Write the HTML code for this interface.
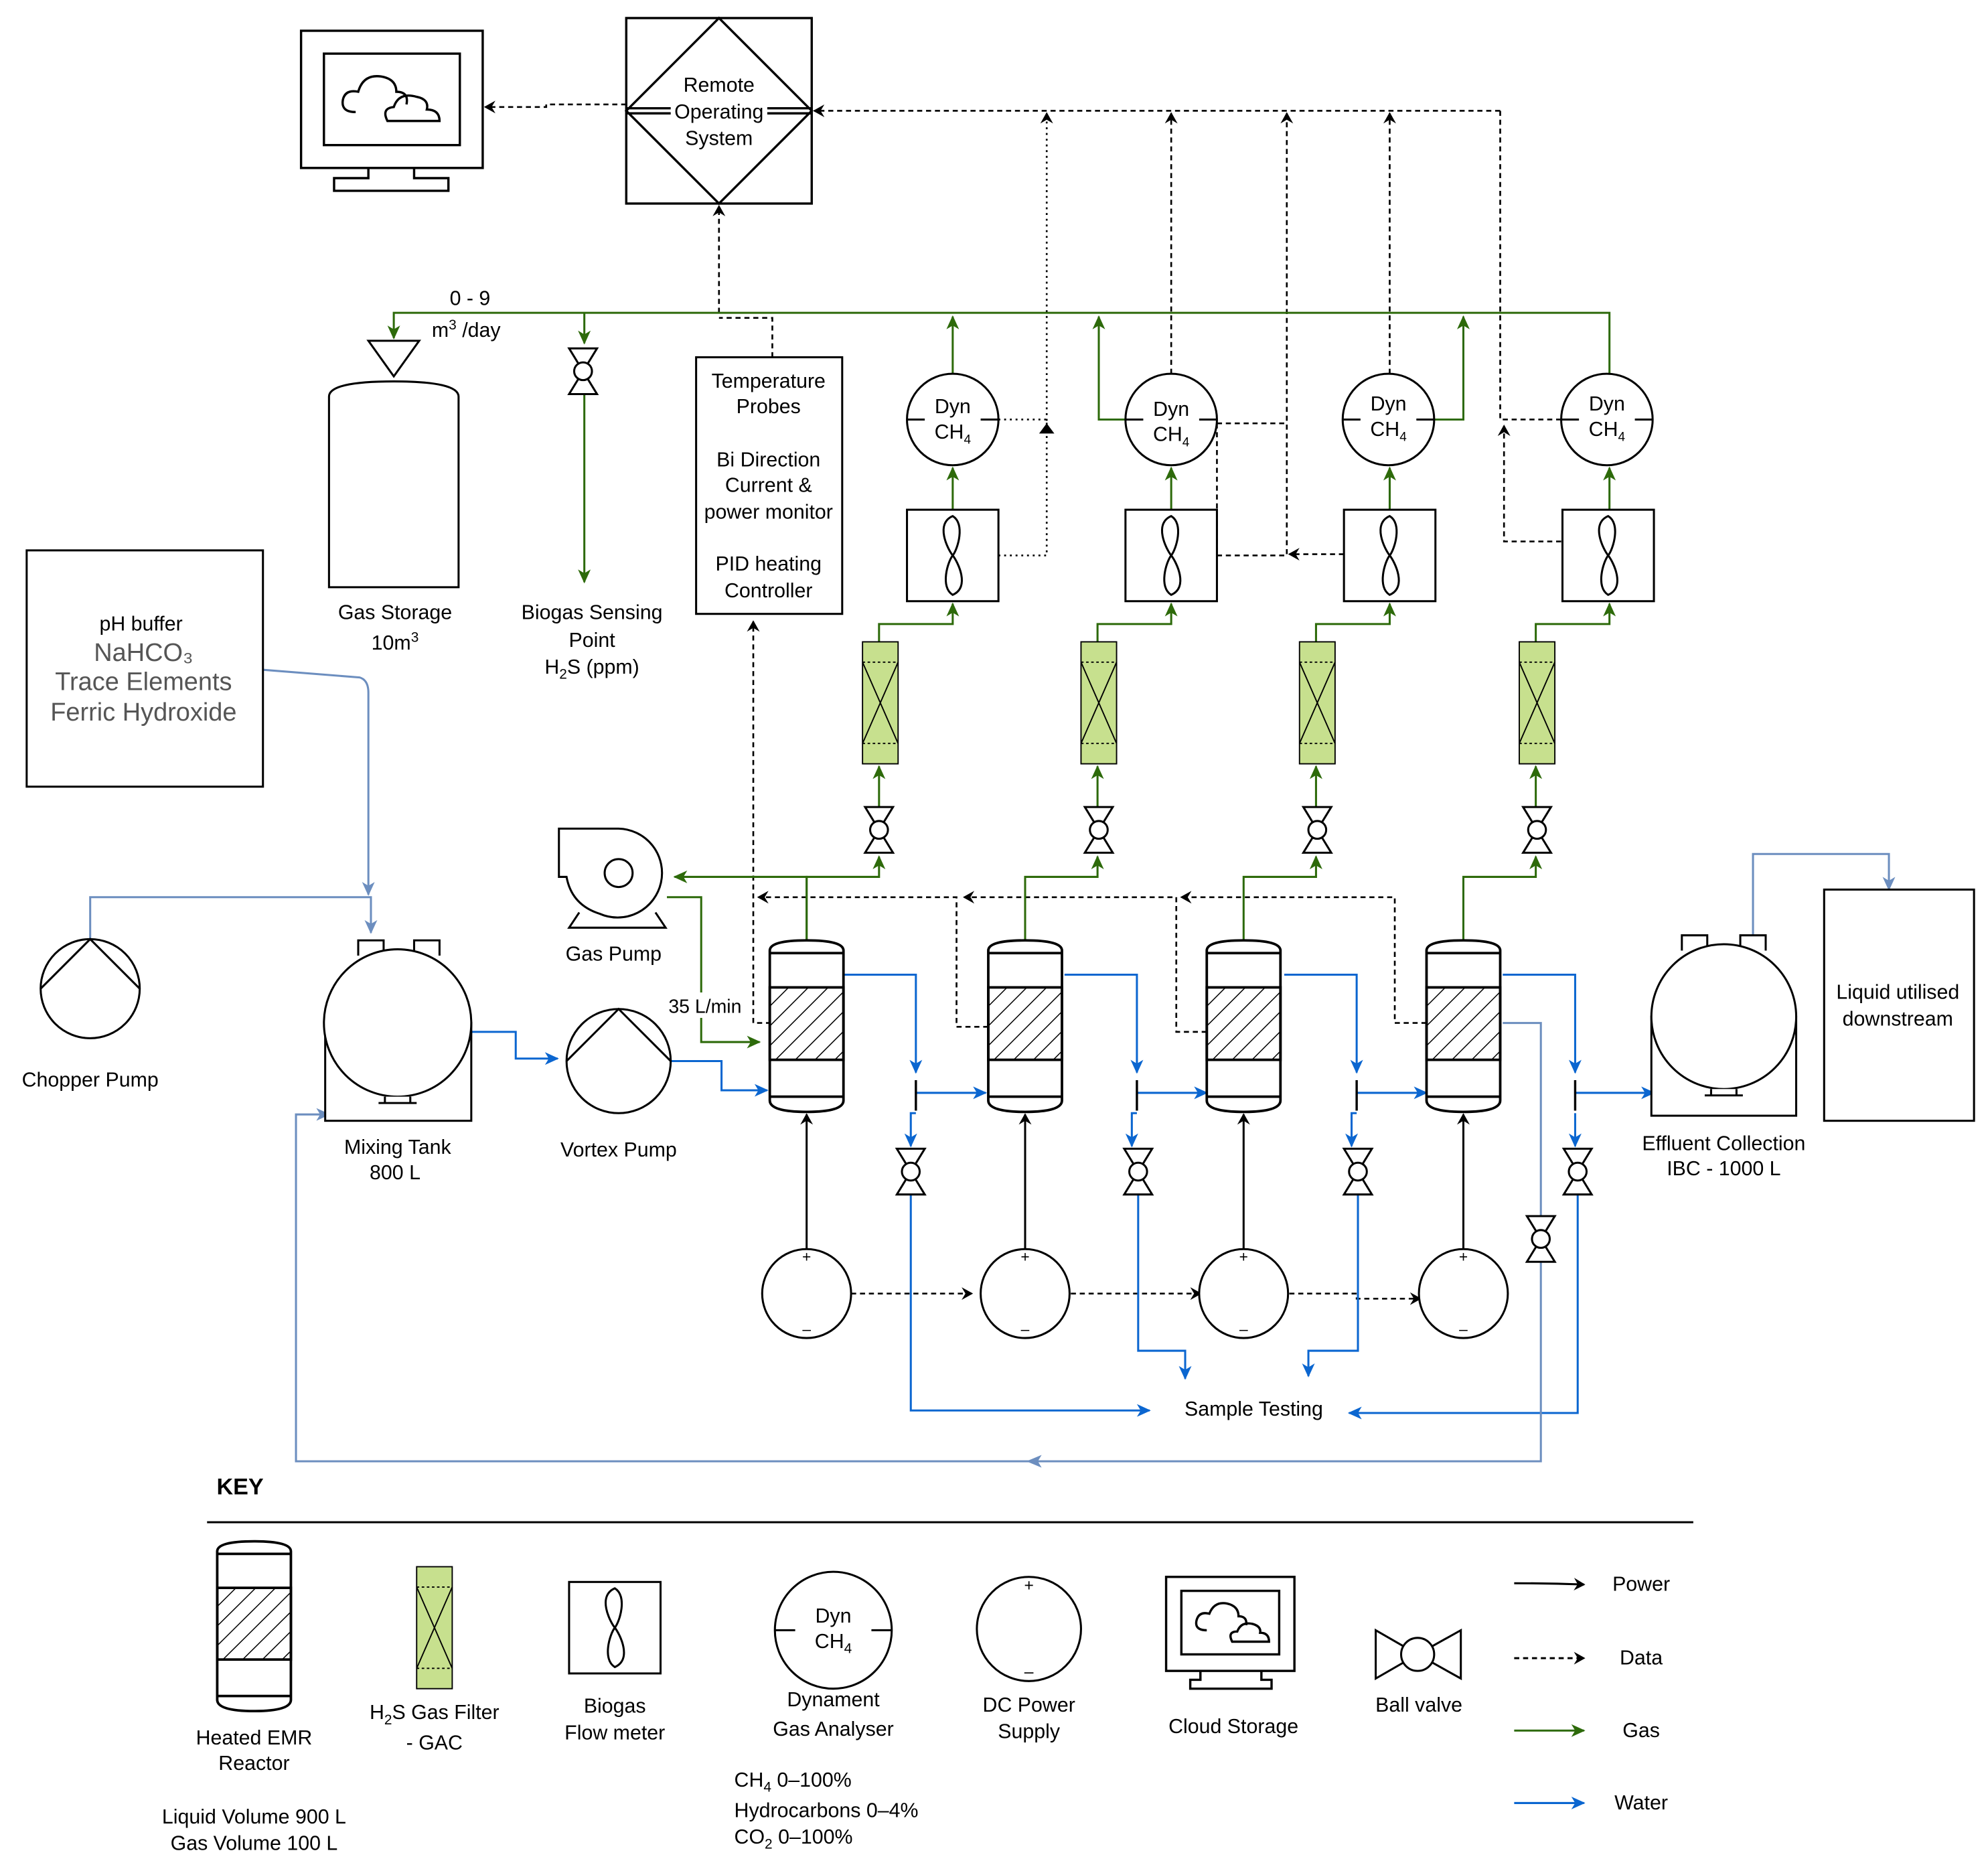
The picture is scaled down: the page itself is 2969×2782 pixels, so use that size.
<!DOCTYPE html>
<html><head><meta charset="utf-8"><style>
html,body{margin:0;padding:0;background:#fff}
svg{display:block}
text{font-family:"Liberation Sans",sans-serif;font-size:16px;fill:#000;text-anchor:middle}
</style></head><body>
<svg width="2969" height="2782" viewBox="0 0 1565 1466" xmlns="http://www.w3.org/2000/svg">
<defs>
<pattern id="h" patternUnits="userSpaceOnUse" width="11" height="11" patternTransform="rotate(45)"><line x1="0" y1="0" x2="0" y2="11" stroke="#000" stroke-width="1.6"/></pattern>
<marker id="ak" markerWidth="10" markerHeight="10" refX="8" refY="5" orient="auto" markerUnits="userSpaceOnUse"><path d="M0,0 L9,5 L0,10 L3,5z" fill="#000"/></marker>
<marker id="ag" markerWidth="12" markerHeight="10" refX="10" refY="5" orient="auto" markerUnits="userSpaceOnUse"><path d="M0,0 L11,5 L0,10 L3,5z" fill="#2d6a0a"/></marker>
<marker id="ab" markerWidth="12" markerHeight="10" refX="10" refY="5" orient="auto" markerUnits="userSpaceOnUse"><path d="M0,0 L11,5 L0,10 L3,5z" fill="#0b66d0"/></marker>
<marker id="al" markerWidth="12" markerHeight="10" refX="10" refY="5" orient="auto" markerUnits="userSpaceOnUse"><path d="M0,0 L11,5 L0,10 L3,5z" fill="#6c8ebf"/></marker>
<g id="reactor" fill="#fff" stroke="#000" stroke-width="2">
<path d="M-29,748 Q-29,740 0,740 Q29,740 29,748 L29,866 Q29,875 0,875 Q-29,875 -29,866 Z"/>
<rect x="-29" y="777" width="58" height="57" fill="url(#h)"/>
<line x1="-29" y1="750" x2="29" y2="750"/><line x1="-29" y1="863" x2="29" y2="863"/>
</g>
<g id="dyn" fill="#fff" stroke="#000" stroke-width="1.6"><circle r="36"/><line x1="-36" y1="0" x2="-22" y2="0"/><line x1="22" y1="0" x2="36" y2="0"/></g>
<g id="fm" fill="#fff" stroke="#000" stroke-width="1.6"><rect x="-36" y="-36" width="72" height="72"/><path d="M0,-31 C-14,-25 -4,-5 0,0 C4,5 14,25 0,31 C-10,25 -4,5 0,0 C4,-5 10,-25 0,-31Z" fill="none"/></g>
<g id="filt" stroke="#000" stroke-width="1"><rect x="-14" y="0" width="28" height="96" fill="#c7e08e"/><path d="M-14,16 L14,80 M14,16 L-14,80" fill="none"/><path d="M-14,16 H14 M-14,80 H14" stroke-dasharray="2,2"/></g>
<g id="vv" fill="#fff" stroke="#000" stroke-width="1.6"><path d="M-11,-18 L11,-18 L0,0 L11,18 L-11,18 L0,0Z"/><circle r="7"/></g>
<g id="dc" fill="#fff" stroke="#000" stroke-width="1.6"><circle r="35"/></g>
</defs>

<g fill="none" stroke="#000" stroke-width="1.8">
<rect x="237" y="24" width="143" height="108"/><rect x="255" y="42" width="107" height="72"/>
<path d="M290,132 V140 H263 V150 H353 V140 H326 V132"/>
<path d="M280,88 Q268,88 270,78 Q272,70 282,72 Q286,58 300,60 Q312,62 312,72 Q322,72 320,82" />
<path d="M305,95 Q300,85 310,84 Q314,72 328,76 Q338,78 336,86 Q346,86 346,95 Z"/>
</g>
<g fill="none" stroke="#000" stroke-width="1.8">
<rect x="493" y="14" width="146" height="146"/>
<path d="M566,14 L639,87 L566,160 L493,87Z"/>
<path d="M493,85 H528 M493,89 H528 M604,85 H639 M604,89 H639"/>
</g>
<text x="566" y="72">Remote</text><text x="566" y="93">Operating</text><text x="566" y="114">System</text>

<g fill="none" stroke="#000" stroke-width="1.4" stroke-dasharray="4,3">
<path d="M493,82 H430 V84 H382" marker-end="url(#ak)"/>
<path d="M1181,87 H641" marker-end="url(#ak)"/>
<path d="M566,246 V162" marker-end="url(#ak)"/>
<path d="M608,281 V250 H566"/>
<path d="M607,805 H593 V489" marker-end="url(#ak)"/>
<path d="M922,294 V89" marker-end="url(#ak)"/>
<path d="M1094,294 V89" marker-end="url(#ak)"/>
<path d="M958,437 H1013 V89" marker-end="url(#ak)"/>
<path d="M1058,436 H1015" marker-end="url(#ak)"/>
<path d="M958,333 H1013 M958,333 V437"/>
<path d="M1229,330 H1181 V87"/>
<path d="M1229,426 H1184 V335" marker-end="url(#ak)"/>
<path d="M778,808 H753 V706 H597" marker-end="url(#ak)"/>
<path d="M950,812 H926 V706 H759" marker-end="url(#ak)"/>
<path d="M1123,805 H1098 V706 H930" marker-end="url(#ak)"/>
<path d="M670,1018 H765" marker-end="url(#ak)"/>
<path d="M843,1018 H945" marker-end="url(#ak)"/>
<path d="M1015,1018 H1068 V1022 H1118" marker-end="url(#ak)"/>
</g>
<g fill="none" stroke="#000" stroke-width="1.4" stroke-dasharray="1.5,3">
<path d="M786,437 H824 V89" marker-end="url(#ak)"/>
<path d="M786,330 H824 V335" />
</g>
<path d="M818,341 L824,333 L830,341Z" fill="#000"/>

<g fill="none" stroke="#2d6a0a" stroke-width="1.6">
<path d="M1267,294 V246 H310 V266" marker-end="url(#ag)"/>
<path d="M460,246 V270" marker-end="url(#ag)"/>
<path d="M460,310 V458" marker-end="url(#ag)"/>
<path d="M750,294 V249" marker-end="url(#ag)"/>
<path d="M886,330 H865 V249" marker-end="url(#ag)"/>
<path d="M1129,330 H1152 V249" marker-end="url(#ag)"/>
<path d="M635,740 V690 H531" marker-end="url(#ag)"/>
<path d="M525,706 H552 V820 H598" marker-end="url(#ag)"/>
</g>
<g fill="none" stroke="#2d6a0a" stroke-width="1.6">
<g id="gch">
<path d="M635,740 V690 H692 V674" marker-end="url(#ag)"/>
<path d="M692,635 V603" marker-end="url(#ag)"/>
<path d="M692,505 V491 H750 V475" marker-end="url(#ag)"/>
<path d="M750,401 V368" marker-end="url(#ag)"/>
</g>
<use href="#gch" x="172"/><use href="#gch" x="344"/><use href="#gch" x="517"/>
</g>

<g fill="none" stroke="#0b66d0" stroke-width="1.6">
<path d="M371,812 H406 V833 H439" marker-end="url(#ab)"/>
<path d="M528,835 H568 V858 H604" marker-end="url(#ab)"/>
<g id="wch">
<path d="M664,767 H721 V844" marker-end="url(#ab)"/>
<path d="M721,860 H776" marker-end="url(#ab)"/>
<path d="M721,876 H717 V902" marker-end="url(#ab)"/>
</g>
<use href="#wch" x="174"/><use href="#wch" x="347"/>
<path d="M1183,767 H1240 V844" marker-end="url(#ab)"/>
<path d="M1240,860 H1302" marker-end="url(#ab)"/>
<path d="M1240,876 V902" marker-end="url(#ab)"/>
<path d="M717,940 V1110 H905" marker-end="url(#ab)"/>
<path d="M896,940 V1063 H933 V1085" marker-end="url(#ab)"/>
<path d="M1069,940 V1063 H1030 V1083" marker-end="url(#ab)"/>
<path d="M1242,940 V1112 H1062" marker-end="url(#ab)"/>
</g>
<g stroke="#000" stroke-width="1.8"><line x1="721" y1="850" x2="721" y2="874"/><line x1="895" y1="850" x2="895" y2="874"/><line x1="1068" y1="850" x2="1068" y2="874"/><line x1="1240" y1="850" x2="1240" y2="874"/></g>

<g fill="none" stroke="#6c8ebf" stroke-width="1.6">
<path d="M1183,805 H1213 V1150 H233 V877 H259" marker-end="url(#al)"/>
<path d="M207,527 L283,533 Q290,535 290,545 V704" marker-end="url(#al)"/>
<path d="M71,739 V706 H292 V734" marker-end="url(#al)"/>
<path d="M1380,740 V672 H1487 V700" marker-end="url(#al)"/>
</g>
<path d="M808,1150 L820,1145 L817,1150 L820,1155Z" fill="#6c8ebf"/>

<g fill="none" stroke="#000" stroke-width="1.6">
<path d="M635,983 V877" marker-end="url(#ak)"/><path d="M807,983 V877" marker-end="url(#ak)"/><path d="M979,983 V877" marker-end="url(#ak)"/><path d="M1152,983 V877" marker-end="url(#ak)"/>
</g>

<use href="#reactor" x="635"/><use href="#reactor" x="807"/><use href="#reactor" x="979"/><use href="#reactor" x="1152"/>
<g>
<use href="#dyn" x="750" y="330"/><use href="#dyn" x="922" y="330"/><use href="#dyn" x="1093" y="330"/><use href="#dyn" x="1265" y="330"/>
<use href="#fm" x="750" y="437"/><use href="#fm" x="922" y="437"/><use href="#fm" x="1094" y="437"/><use href="#fm" x="1266" y="437"/>
<use href="#filt" x="693" y="505"/><use href="#filt" x="865" y="505"/><use href="#filt" x="1037" y="505"/><use href="#filt" x="1210" y="505"/>
<use href="#vv" x="692" y="653"/><use href="#vv" x="865" y="653"/><use href="#vv" x="1037" y="653"/><use href="#vv" x="1210" y="653"/>
<use href="#vv" x="717" y="922"/><use href="#vv" x="896" y="922"/><use href="#vv" x="1069" y="922"/><use href="#vv" x="1242" y="922"/>
<use href="#vv" x="1213" y="975"/><use href="#vv" x="459" y="292"/>
<use href="#dc" x="635" y="1018"/><use href="#dc" x="807" y="1018"/><use href="#dc" x="979" y="1018"/><use href="#dc" x="1152" y="1018"/>
</g>
<g>
<text x="750" y="325">Dyn</text><text x="750" y="345">CH<tspan font-size="10" dy="4">4</tspan></text>
<text x="922" y="327">Dyn</text><text x="922" y="347">CH<tspan font-size="10" dy="4">4</tspan></text>
<text x="1093" y="323">Dyn</text><text x="1093" y="343">CH<tspan font-size="10" dy="4">4</tspan></text>
<text x="1265" y="323">Dyn</text><text x="1265" y="343">CH<tspan font-size="10" dy="4">4</tspan></text>
</g>
<g>
<text x="635" y="993" style="font-size:12px">+</text><text x="635" y="1050" style="font-size:12px">–</text><text x="807" y="993" style="font-size:12px">+</text><text x="807" y="1050" style="font-size:12px">–</text>
<text x="979" y="993" style="font-size:12px">+</text><text x="979" y="1050" style="font-size:12px">–</text><text x="1152" y="993" style="font-size:12px">+</text><text x="1152" y="1050" style="font-size:12px">–</text>
</g>

<g fill="#fff" stroke="#000" stroke-width="1.6">
<path d="M290,268 H330 L310,296Z"/>
<path d="M259,462 V312 Q259,300 310,300 Q361,300 361,312 V462Z"/>
</g>
<text x="311" y="487">Gas Storage</text><text x="311" y="511">10m<tspan font-size="11" dy="-6">3</tspan></text>
<text x="370" y="240">0 - 9</text><text x="367" y="265">m<tspan font-size="11" dy="-6">3</tspan><tspan dy="6"> /day</tspan></text>
<text x="466" y="487">Biogas Sensing</text><text x="466" y="509">Point</text><text x="466" y="530">H<tspan font-size="11" dy="4">2</tspan><tspan dy="-4">S (ppm)</tspan></text>

<rect x="548" y="281" width="115" height="202" fill="#fff" stroke="#000" stroke-width="1.6"/>
<text x="605" y="305">Temperature</text><text x="605" y="325">Probes</text>
<text x="605" y="367">Bi Direction</text><text x="605" y="387">Current &amp;</text><text x="605" y="408">power monitor</text>
<text x="605" y="449">PID heating</text><text x="605" y="470">Controller</text>

<rect x="21" y="433" width="186" height="186" fill="#fff" stroke="#000" stroke-width="1.6"/>
<text x="111" y="496">pH buffer</text>
<text x="113" y="520" style="fill:#555;font-size:20px">NaHCO₃</text><text x="113" y="543" style="fill:#555;font-size:20px">Trace Elements</text><text x="113" y="567" style="fill:#555;font-size:20px">Ferric Hydroxide</text>

<g fill="#fff" stroke="#000" stroke-width="1.6"><circle cx="71" cy="778" r="39"/><path d="M32,778 L71,739 L110,778" fill="none"/></g>
<text x="71" y="855">Chopper Pump</text>

<g fill="#fff" stroke="#000" stroke-width="1.6">
<path d="M282,752 V740 H302 V752 M326,752 V740 H346 V752" />
<rect x="256" y="805" width="115" height="77"/>
<circle cx="313" cy="805" r="58"/>
<path d="M303,863 V868 H323 V863 M298,868 H328"/>
</g>
<text x="313" y="908">Mixing Tank</text><text x="311" y="928">800 L</text>

<g fill="#fff" stroke="#000" stroke-width="1.6">
<path d="M456,718 L448,730 H524 L516,718"/>
<path d="M487,652 A35,35 0 1 1 472,719 Q450,712 446,690 H440 V652Z"/>
<circle cx="487" cy="687" r="11"/>
</g>
<text x="483" y="756">Gas Pump</text>
<rect x="522" y="781" width="64" height="20" fill="#fff"/><text x="555" y="797" style="font-size:15px">35 L/min</text>

<g fill="#fff" stroke="#000" stroke-width="1.6"><circle cx="487" cy="835" r="41"/><path d="M446,835 L487,794 L528,835" fill="none"/></g>
<text x="487" y="910">Vortex Pump</text>

<g fill="#fff" stroke="#000" stroke-width="1.6">
<path d="M1324,748 V736 H1344 V748 M1370,748 V736 H1390 V748"/>
<rect x="1300" y="800" width="114" height="78"/>
<circle cx="1357" cy="800" r="57"/>
<path d="M1347,857 V862 H1367 V857 M1342,862 H1372"/>
</g>
<text x="1357" y="905">Effluent Collection</text><text x="1357" y="925">IBC - 1000 L</text>
<rect x="1436" y="700" width="118" height="182" fill="#fff" stroke="#000" stroke-width="1.6"/>
<text x="1494" y="786">Liquid utilised</text><text x="1494" y="807">downstream</text>

<text x="987" y="1114">Sample Testing</text>

<text x="189" y="1176" font-weight="bold" style="font-size:18px">KEY</text>
<line x1="163" y1="1198" x2="1333" y2="1198" stroke="#000" stroke-width="1.6"/>
<g transform="translate(200,1213) scale(1,0.99) translate(0,-740)"><use href="#reactor"/></g>
<text x="200" y="1373">Heated EMR</text><text x="200" y="1393">Reactor</text>
<text x="200" y="1435">Liquid Volume 900 L</text><text x="200" y="1456">Gas Volume 100 L</text>
<use href="#filt" x="342" y="1233"/>
<text x="342" y="1353">H<tspan font-size="11" dy="4">2</tspan><tspan dy="-4">S Gas Filter</tspan></text><text x="342" y="1377">- GAC</text>
<use href="#fm" x="484" y="1281"/>
<text x="484" y="1348">Biogas</text><text x="484" y="1369">Flow meter</text>
<g fill="#fff" stroke="#000" stroke-width="1.6"><circle cx="656" cy="1283" r="46"/><line x1="610" y1="1283" x2="626" y2="1283"/><line x1="686" y1="1283" x2="702" y2="1283"/></g>
<text x="656" y="1277">Dyn</text><text x="656" y="1297">CH<tspan font-size="11" dy="4">4</tspan></text>
<text x="656" y="1343">Dynament</text><text x="656" y="1366">Gas Analyser</text>
<text x="578" y="1406" style="text-anchor:start">CH<tspan font-size="11" dy="4">4</tspan><tspan dy="-4"> 0–100%</tspan></text>
<text x="578" y="1430" style="text-anchor:start">Hydrocarbons 0–4%</text>
<text x="578" y="1451" style="text-anchor:start">CO<tspan font-size="11" dy="4">2</tspan><tspan dy="-4"> 0–100%</tspan></text>
<g fill="#fff" stroke="#000" stroke-width="1.6"><circle cx="810" cy="1282" r="41"/></g>
<text x="810" y="1252" style="font-size:13px">+</text><text x="810" y="1320" style="font-size:13px">–</text>
<text x="810" y="1347">DC Power</text><text x="810" y="1368">Supply</text>
<g fill="none" stroke="#000" stroke-width="1.8">
<rect x="918" y="1241" width="101" height="74"/><rect x="930" y="1252" width="77" height="50"/>
<path d="M945,1315 V1322 H937 V1329 H1001 V1322 H993 V1315"/>
<path d="M950,1283 Q940,1283 942,1275 Q944,1268 952,1270 Q956,1260 966,1262 Q975,1264 975,1272 Q982,1272 981,1279"/>
<path d="M970,1292 Q966,1284 974,1284 Q977,1276 986,1278 Q993,1280 992,1285 Q999,1285 999,1292Z"/>
</g>
<text x="971" y="1364">Cloud Storage</text>
<g fill="#fff" stroke="#000" stroke-width="1.6"><path d="M1083,1283 L1116,1302 L1150,1283 V1321 L1116,1302 L1083,1321Z"/><circle cx="1116" cy="1302" r="13"/></g>
<text x="1117" y="1347">Ball valve</text>
<g fill="none" stroke-width="1.6">
<path d="M1192,1246 Q1220,1246 1247,1247" stroke="#000" marker-end="url(#ak)"/>
<path d="M1192,1305 H1247" stroke="#000" stroke-dasharray="4,3" marker-end="url(#ak)"/>
<path d="M1192,1362 H1247" stroke="#2d6a0a" marker-end="url(#ag)"/>
<path d="M1192,1419 H1247" stroke="#0b66d0" marker-end="url(#ab)"/>
</g>
<text x="1292" y="1252">Power</text><text x="1292" y="1310">Data</text><text x="1292" y="1367">Gas</text><text x="1292" y="1424">Water</text>
</svg>
</body></html>
